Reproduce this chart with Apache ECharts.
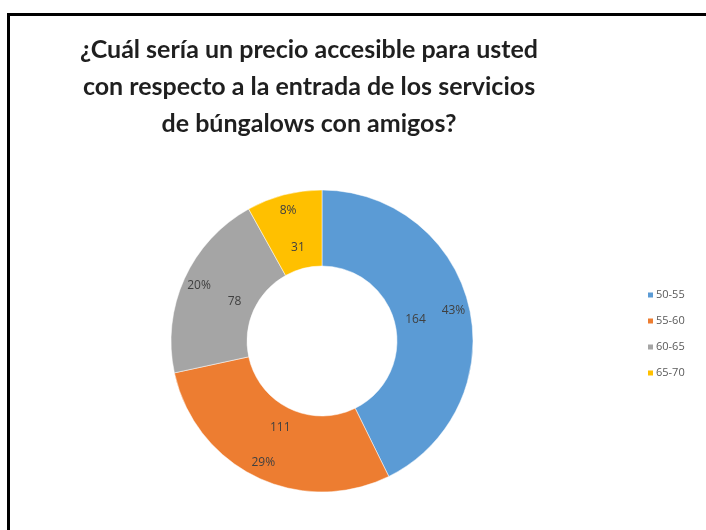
<!DOCTYPE html>
<html>
<head>
<meta charset="utf-8">
<script src="https://cdn.jsdelivr.net/npm/echarts@6/dist/echarts.min.js"></script>
<style>
html,body{margin:0;padding:0;background:#fff;}
#chart{width:706px;height:530px;}
</style>
</head>
<body>
<div id="chart"></div>
<script>
const titleText = '¿Cuál sería un precio accesible para usted\ncon respecto a la entrada de los servicios\nde búngalows con amigos?';
const categories = ['50-55', '55-60', '60-65', '65-70'];
const values = [164, 111, 78, 31];
const colors = ['#5B9BD5', '#ED7D31', '#A5A5A5', '#FFC000'];

const total = values.reduce((a, b) => a + b, 0);
const baseData = categories.map((c, i) => ({ name: c, value: values[i], itemStyle: { color: colors[i] } }));
const labelData = categories.map((c, i) => ({ name: c, value: values[i] }));

const chart = echarts.init(document.getElementById('chart'), null, { renderer: 'canvas' });
const center = [322, 341];
const labelFont = { fontFamily: 'Open Sans', fontSize: 12, color: '#404040' };

chart.setOption({
  backgroundColor: '#ffffff',
  animation: false,
  title: {
    text: titleText,
    left: 309,
    top: 31,
    padding: 0,
    textAlign: 'center',
    textStyle: { fontFamily: 'Lato', fontWeight: 'bold', fontSize: 25, lineHeight: 37, color: '#1f1f1f' }
  },
  legend: {
    orient: 'vertical',
    left: 646,
    top: 288,
    padding: 0,
    itemWidth: 7,
    itemHeight: 7,
    itemGap: 12,
    icon: 'rect',
    data: categories,
    textStyle: { fontFamily: 'Open Sans', fontSize: 11, color: '#595959', padding: [0, 0, 0, -3], lineHeight: 14 }
  },
  graphic: [
    { type: 'rect', shape: { x: 7, y: 13, width: 3, height: 530 }, style: { fill: '#000' }, z: 100 },
    { type: 'rect', shape: { x: 7, y: 13, width: 706, height: 3 }, style: { fill: '#000' }, z: 100 }
  ],
  series: [
    {
      name: 'main',
      type: 'pie',
      center: center,
      radius: [75, 151],
      startAngle: 90,
      clockwise: true,
      label: { show: false },
      labelLine: { show: false },
      itemStyle: { borderColor: '#ffffff', borderWidth: 0.5 },
      emphasis: { disabled: true },
      data: baseData
    },
    {
      name: 'values',
      type: 'pie',
      center: center,
      radius: [75, 111],
      startAngle: 90,
      clockwise: true,
      silent: true,
      legendHoverLink: false,
      itemStyle: { color: 'rgba(0,0,0,0)', borderWidth: 0 },
      label: Object.assign({ show: true, position: 'inside', formatter: '{c}' }, labelFont),
      labelLine: { show: false },
      emphasis: { disabled: true },
      data: labelData
    },
    {
      name: 'percents',
      type: 'pie',
      center: center,
      radius: [114, 150],
      startAngle: 90,
      clockwise: true,
      silent: true,
      legendHoverLink: false,
      itemStyle: { color: 'rgba(0,0,0,0)', borderWidth: 0 },
      label: Object.assign({ show: true, position: 'inside', formatter: p => Math.round(p.value / total * 100) + '%' }, labelFont),
      labelLine: { show: false },
      emphasis: { disabled: true },
      data: labelData
    }
  ]
});
</script>
</body>
</html>
